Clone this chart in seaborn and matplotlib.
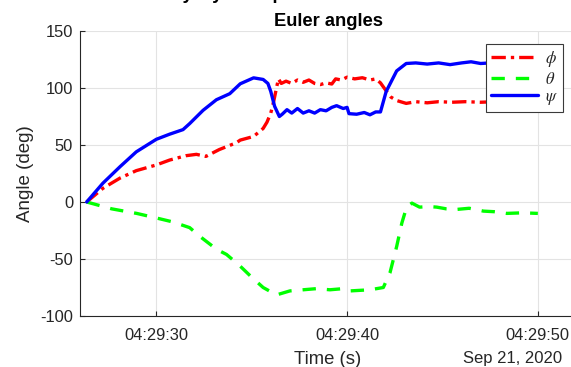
import numpy as np
import pandas as pd
import matplotlib
matplotlib.use("Agg")
import matplotlib.pyplot as plt
import matplotlib.dates as mdates
import seaborn as sns

# ---- data (seconds after 04:29:00 on Sep 21, 2020) ----
psi_t = [26.35, 27.2, 28.1, 28.95, 30.0, 30.7, 31.4, 31.75, 32.45, 33.15, 33.85, 34.4,
         35.1, 35.6, 35.85, 36.0, 36.2, 36.45, 36.6, 36.85, 37.1, 37.4, 37.7, 38.0,
         38.3, 38.6, 38.9, 39.2, 39.45, 39.8, 40.0, 40.1, 40.5, 40.9, 41.2, 41.5,
         41.75, 42.05, 42.6, 43.1, 43.6, 44.2, 44.8, 45.4, 46.0, 46.5, 47.0, 47.5,
         48.5, 49.3, 50.0]
psi_v = [0, 16.5, 31, 44, 55, 59.5, 63.5, 68.8, 80.4, 89.7, 95, 103.7,
         108.9, 107.5, 104, 97, 84, 75, 77, 81, 78, 82, 78, 80,
         78, 81, 80, 83, 84.5, 82, 83, 77.5, 77, 78.5, 76.5, 79,
         79, 97, 115, 121.5, 122, 121, 122, 120.5, 122, 123, 121.5, 122,
         121.5, 122, 121.5]

phi_t = [26.35, 27.2, 28.1, 28.95, 30.0, 30.7, 31.55, 32.1, 32.6, 33.3, 34.2, 34.4,
         35.1, 35.6, 35.8, 36.0, 36.15, 36.4, 36.55, 36.8, 37.1, 37.4, 37.7, 38.0,
         38.3, 38.6, 38.9, 39.2, 39.4, 39.7, 40.0, 40.4, 40.8, 41.2, 41.5, 41.75,
         42.05, 42.3, 42.6, 43.1, 43.6, 44.2, 44.8, 45.5, 46.2, 47.0, 47.8, 48.6,
         49.3, 50.0]
phi_v = [0, 12, 21, 27.5, 32.5, 36.8, 40.6, 41.8, 40, 46, 52, 54.3,
         57.5, 64.5, 70, 78, 88, 108, 104, 106, 104, 107, 105, 107,
         104, 103, 104.5, 103.5, 108, 107, 109.5, 108, 109, 107, 108, 104.5,
         97.5, 92, 89, 86.5, 88, 87, 88, 87.5, 88, 87.5, 88, 87.5,
         88, 88]

theta_t = [26.35, 27.66, 28.97, 30.0, 30.87, 31.75, 32.27, 33.16, 33.68, 34.38, 35.0,
           35.6, 36.3, 37.0, 37.7, 38.4, 39.1, 39.8, 40.15, 41.2, 41.9, 42.25, 42.6,
           42.87, 43.13, 43.4, 43.8, 44.3, 44.7, 45.2, 45.75, 46.4, 47.15, 47.7,
           48.37, 49.2, 50.0]
theta_v = [0, -6, -10, -14, -17.5, -22.5, -30, -41.5, -46, -56, -66,
           -75, -81.5, -78, -77, -76, -77, -76, -78, -77, -75, -62, -39,
           -18.5, -4, -1, -4.5, -4, -4.5, -6, -6.5, -5.5, -8, -8.5,
           -10, -9.5, -10]

labels = [r"$\phi$", r"$\theta$", r"$\psi$"]
y_ticks = [-100, -50, 0, 50, 100, 150]
t0 = pd.Timestamp("2020-09-21 04:29:00")


def to_time(secs):
    return t0 + pd.to_timedelta(np.asarray(secs, dtype=float), unit="s")


# ---- style ----
sns.set_theme(style="white")
plt.rcParams["font.family"] = ["Liberation Sans", "DejaVu Sans"]
plt.rcParams["mathtext.fontset"] = "stix"
plt.rcParams["axes.unicode_minus"] = False
dark = "#262626"

W, H = 571, 367
fig = plt.figure(figsize=(W / 100, H / 100), dpi=100)
L, R, B, T = 80, 576, 316, 31
ax = fig.add_axes([L / W, 1 - B / H, (R - L) / W, (B - T) / H])

series = [
    (phi_t, phi_v, "#ff0000", (4.3, 1.5, 1.0, 1.5)),
    (theta_t, theta_v, "#00ff00", (4.0, 3.3)),
    (psi_t, psi_v, "#0000ff", None),
]
for (tt, vv, col, dsh), lab in zip(series, labels):
    df = pd.DataFrame({"time": to_time(tt), "angle": vv})
    n_before = len(ax.lines)
    sns.lineplot(data=df, x="time", y="angle", ax=ax, color=col, linewidth=2.4,
                 label=lab, sort=False, estimator=None)
    ln = ax.lines[n_before]
    if dsh is not None:
        ln.set_dashes(dsh)
    ln.set_dash_capstyle("butt")

ax.set_xlim(to_time([26])[0], to_time([52])[0])
ax.set_ylim(-100, 150)
ax.set_yticks(y_ticks)
ax.xaxis.set_major_locator(mdates.SecondLocator(bysecond=[30, 40, 50]))
ax.xaxis.set_major_formatter(mdates.DateFormatter("%H:%M:%S"))

ax.grid(True, color="#e3e3e3", linewidth=0.8)
ax.set_axisbelow(True)
for s in ["top", "right"]:
    ax.spines[s].set_visible(False)
for s in ["left", "bottom"]:
    ax.spines[s].set_color(dark)
    ax.spines[s].set_linewidth(0.8)
ax.tick_params(axis="both", direction="in", length=3.5, width=0.8, color=dark,
               labelcolor=dark, labelsize=11.9, bottom=True, left=True)
ax.tick_params(axis="x", pad=8.5)
ax.tick_params(axis="y", pad=5)

ax.set_title("Euler angles", fontsize=13.2, fontweight="bold", color="black", pad=3.5)
ax.set_xlabel("Time (s)", fontsize=13.3, color=dark)
ax.set_ylabel("Angle (deg)", fontsize=13.5, color=dark)
ax.xaxis.label.set_va("center")
ax.yaxis.label.set_va("center")
ax.xaxis.set_label_coords(0.5, (B - 359) / (B - T))
ax.yaxis.set_label_coords((25 - L) / (R - L), 0.5)

fig.text(562.5 / W, 1 - 359 / H, "Sep 21, 2020", ha="right", va="center",
         fontsize=12, color=dark)

# super-title that is cropped at the very top edge in the reference
fig.text(97 / W, 1 + 0.6 / H, "Attitude by Gyroscope", ha="left", va="baseline",
         fontsize=13.2, fontweight="bold", color="black")

leg = ax.legend(loc="upper right",
                bbox_to_anchor=((563 - L) / (R - L), (B - 44.3) / (B - T)),
                borderaxespad=0, fontsize=12, handlelength=2.8, handletextpad=0.45,
                labelspacing=0.12, borderpad=0.28, fancybox=False, framealpha=1,
                edgecolor="#3a3a3a")
leg.get_frame().set_linewidth(0.8)
for txt in leg.get_texts():
    txt.set_color(dark)

fig.savefig("out.png", dpi=100)
